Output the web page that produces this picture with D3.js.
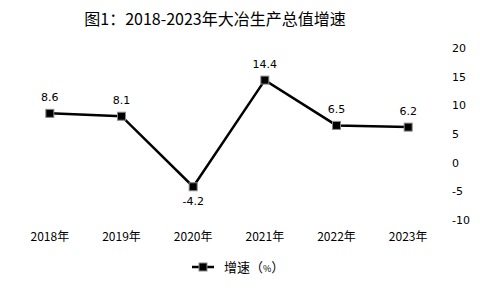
<!DOCTYPE html>
<html>
<head>
<meta charset="utf-8">
<script src="https://cdn.jsdelivr.net/npm/d3@7"></script>
<style>
body { margin: 0; background: #fff; }
text { font-family: "Noto Sans CJK SC", sans-serif; fill: #000; }
</style>
</head>
<body>
<svg id="chart" width="480" height="288"></svg>
<script>
// chart data
var years = ['2018年', '2019年', '2020年', '2021年', '2022年', '2023年'];
var growth = [8.6, 8.1, -4.2, 14.4, 6.5, 6.2];
var yTicks = [-10, -5, 0, 5, 10, 15, 20];

var svg = d3.select('#chart');

var x = d3.scaleBand().domain(years).range([14, 444]);
var y = d3.scaleLinear().domain([-10, 20]).range([220, 48]);

// title
svg.append('text')
    .attr('x', 215).attr('y', 25)
    .attr('text-anchor', 'middle')
    .style('font-size', '16px')
    .text('图1：2018-2023年大冶生产总值增速');

// right axis, no line, plain hyphen minus
var yAxis = svg.append('g')
    .attr('transform', 'translate(447,0)')
    .call(d3.axisRight(y).tickValues(yTicks).tickSize(0).tickPadding(5)
        .tickFormat(function(d){ return String(d); }));
yAxis.select('.domain').remove();
yAxis.selectAll('text').style('font-size', '11px').style('font-family', '"DejaVu Sans", sans-serif');

// category labels
svg.selectAll('.cat').data(years).enter().append('text')
    .attr('class', 'cat')
    .attr('x', function(d){ return x(d) + x.bandwidth() / 2; })
    .attr('y', 241)
    .attr('text-anchor', 'middle')
    .style('font-size', '12px')
    .text(function(d){ return d; });

var pts = years.map(function(d, i){ return [x(d) + x.bandwidth() / 2, y(growth[i])]; });

svg.append('path')
    .attr('d', d3.line()(pts))
    .attr('fill', 'none')
    .attr('stroke', '#000')
    .attr('stroke-width', 2.5);

svg.selectAll('.mk').data(pts).enter().append('rect')
    .attr('class', 'mk')
    .attr('x', function(d){ return d[0] - 4; })
    .attr('y', function(d){ return d[1] - 4; })
    .attr('width', 8).attr('height', 8)
    .attr('fill', '#000')
    .attr('stroke', '#888')
    .attr('stroke-width', 1);

// value labels
svg.selectAll('.lbl').data(growth).enter().append('text')
    .attr('class', 'lbl')
    .attr('x', function(d, i){ return pts[i][0]; })
    .attr('y', function(d, i){ return d < 0 ? pts[i][1] + 18 : pts[i][1] - 12; })
    .attr('text-anchor', 'middle')
    .style('font-size', '11px')
    .style('font-family', '"DejaVu Sans", sans-serif')
    .text(function(d){ return d; });

// legend
var lg = svg.append('g').attr('transform', 'translate(192,267)');
lg.append('line').attr('x1', 0).attr('x2', 22).attr('y1', 0).attr('y2', 0)
    .attr('stroke', '#000').attr('stroke-width', 2.5);
lg.append('rect').attr('x', 7).attr('y', -4).attr('width', 8).attr('height', 8)
    .attr('fill', '#000').attr('stroke', '#888');
var lt = lg.append('text').attr('x', 32).attr('y', 5).style('font-size', '13px');
lt.append('tspan').text('增速（');
lt.append('tspan').style('font-size', '9px').text('%');
lt.append('tspan').text('）');
</script>
</body>
</html>
